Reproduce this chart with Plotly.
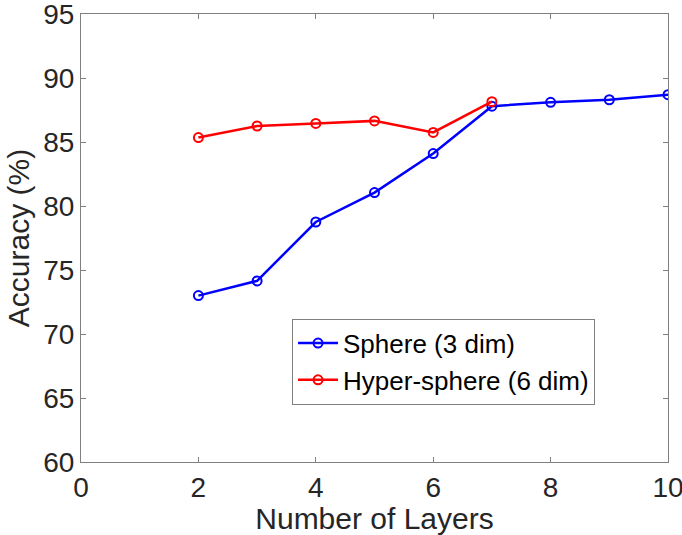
import plotly.graph_objects as go

layers_sphere = [2, 3, 4, 5, 6, 7, 8, 9, 10]
acc_sphere = [73.0, 74.15, 78.75, 81.05, 84.1, 87.8, 88.1, 88.3, 88.7]
layers_hyper = [2, 3, 4, 5, 6, 7]
acc_hyper = [85.35, 86.25, 86.45, 86.65, 85.75, 88.15]
x_ticks = [0, 2, 4, 6, 8, 10]
y_ticks = [60, 65, 70, 75, 80, 85, 90, 95]

font = "Liberation Sans, Arial, Helvetica, sans-serif"
fig = go.Figure()
fig.add_trace(go.Scatter(x=layers_sphere, y=acc_sphere, mode="lines+markers",
                         name="Sphere (3 dim)",
                         line=dict(color="#0000ff", width=2.5),
                         marker=dict(symbol="circle-open", size=9, color="#0000ff", line=dict(width=2))))
fig.add_trace(go.Scatter(x=layers_hyper, y=acc_hyper, mode="lines+markers",
                         name="Hyper-sphere (6 dim)",
                         line=dict(color="#ff0000", width=2.5),
                         marker=dict(symbol="circle-open", size=9, color="#ff0000", line=dict(width=2))))

axis_common = dict(showgrid=False, zeroline=False, showline=True, linecolor="#808080", linewidth=1,
                   mirror="ticks", ticks="inside", ticklen=5, tickcolor="#808080", automargin=False,
                   ticklabeloverflow="allow",
                   tickfont=dict(family=font, size=28, color="#262626"))
fig.update_xaxes(range=[0, 10], tickvals=x_ticks, **axis_common,
                 title=dict(text="Number of Layers", font=dict(family=font, size=30, color="#262626"), standoff=6))
fig.update_yaxes(range=[60, 95.0001], tickvals=y_ticks, **axis_common,
                 title=dict(text="Accuracy (%)", font=dict(family=font, size=30, color="#262626"), standoff=4))
fig.update_layout(template="none", width=682, height=535, margin=dict(l=81, r=14, t=14, b=73),
                  plot_bgcolor="white", paper_bgcolor="white", showlegend=True,
                  legend=dict(x=0.3595, y=0.32, xanchor="left", yanchor="top",
                              bordercolor="#808080", borderwidth=1, bgcolor="white",
                              font=dict(family=font, size=26, color="#000000"),
                              tracegroupgap=0, itemwidth=40))
fig.write_html("out.html")
